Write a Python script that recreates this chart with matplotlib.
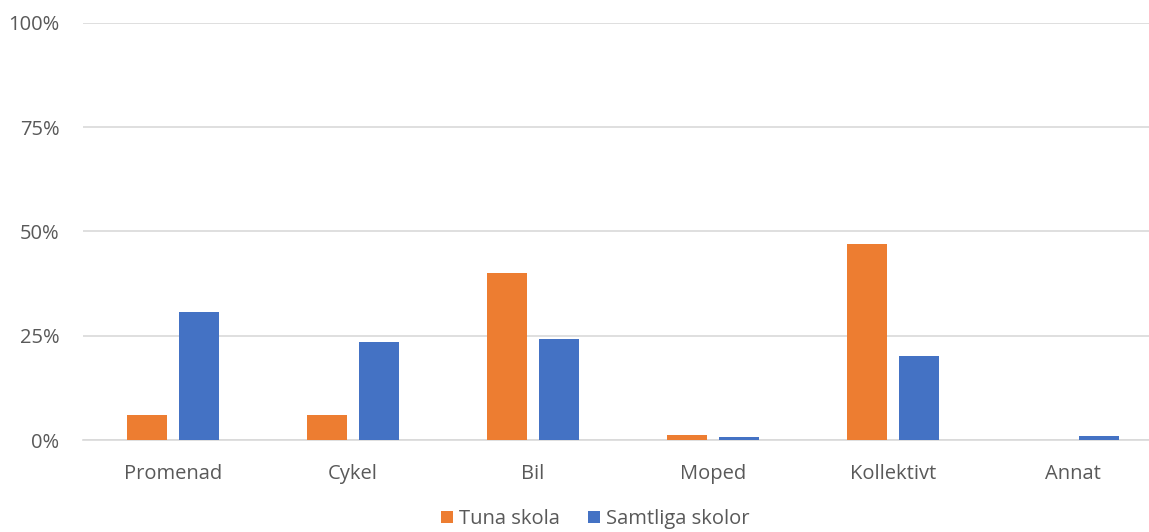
import numpy as np
import matplotlib.pyplot as plt
from matplotlib.ticker import PercentFormatter

categories = ['Promenad', 'Cykel', 'Bil', 'Moped', 'Kollektivt', 'Annat']
tuna_skola = [6.0, 6.0, 40.0, 1.2, 47.0, 0.0]
samtliga_skolor = [30.7, 23.5, 24.2, 0.7, 20.1, 1.0]
y_ticks = [0, 25, 50, 75, 100]

plt.rcParams['font.family'] = ['Open Sans', 'DejaVu Sans']
text_color = '#595959'

fig = plt.figure(figsize=(11.49, 5.32), dpi=100)
# axes runs past the right edge, like the cropped original
ax = fig.add_axes([83 / 1149, 92 / 532, 1080 / 1149, 417 / 532])

x = np.arange(len(categories))
w = 0.222
ax.bar(x - 0.142, tuna_skola, w, color='#ED7D31', label='Tuna skola', zorder=3)
ax.bar(x + 0.142, samtliga_skolor, w, color='#4472C4', label='Samtliga skolor', zorder=3)

ax.set_xlim(-0.5, len(categories) - 0.5)
ax.set_ylim(0, 100)
ax.set_yticks(y_ticks)
ax.yaxis.set_major_formatter(PercentFormatter(decimals=0))
ax.set_xticks(x)
ax.set_xticklabels(categories)
ax.grid(axis='y', color='#D9D9D9', linewidth=1.2, zorder=0)
for s in ['top', 'right', 'left']:
    ax.spines[s].set_visible(False)
ax.spines['bottom'].set_color('#D9D9D9')
ax.spines['bottom'].set_linewidth(1.2)
ax.tick_params(length=0, labelsize=14.5, colors=text_color)
ax.tick_params(axis='x', pad=17)
ax.tick_params(axis='y', pad=17)

fig.legend(loc='center', bbox_to_anchor=(595 / 1149, 1 - 519 / 532), ncol=2,
           frameon=False, fontsize=14.5, labelcolor=text_color,
           handlelength=0.6, handleheight=0.6, handletextpad=0.3, columnspacing=1.4)

fig.savefig('out.png', dpi=100)
